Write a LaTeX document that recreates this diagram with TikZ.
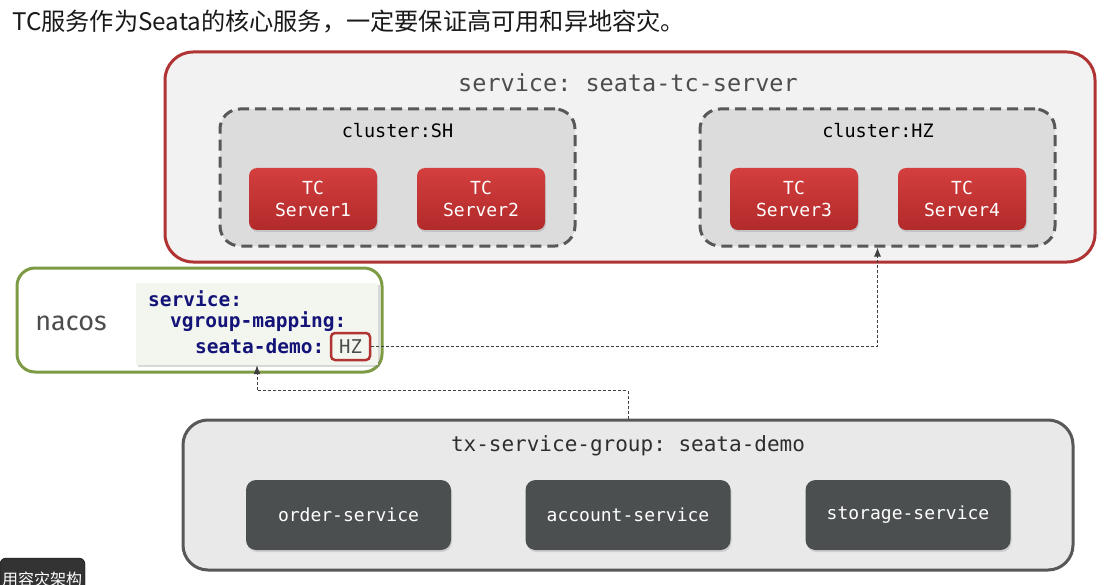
\documentclass[tikz,border=0pt]{standalone}
\usepackage{fontspec}
\setmonofont{DejaVu Sans Mono}
\setsansfont{Fira Sans}
\newfontfamily\cjk{Noto Sans CJK SC}
\usepackage{tikz}
\usetikzlibrary{arrows.meta,shadows}
\tikzset{>={Latex[length=9pt,width=7pt]}}
\definecolor{tcred}{RGB}{176,52,52}
\definecolor{tctop}{RGB}{212,62,62}
\definecolor{tcbottom}{RGB}{178,42,42}
\definecolor{panelgrey}{RGB}{242,242,242}
\definecolor{clustergrey}{RGB}{220,220,220}
\definecolor{edgegrey}{RGB}{88,88,88}
\definecolor{nacosgreen}{RGB}{125,155,69}
\definecolor{codebg}{RGB}{243,245,239}
\definecolor{codeblue}{RGB}{20,20,120}
\definecolor{groupgrey}{RGB}{233,233,233}
\definecolor{svcgrey}{RGB}{75,79,79}
\definecolor{labelgrey}{RGB}{77,77,77}
\newcommand{\fs}[1]{\fontsize{#1}{1.2\dimexpr#1pt\relax}\selectfont}
\tikzset{
	servicebox/.style={draw=tcred, line width=3pt, fill=panelgrey, rounded corners=28pt, minimum width=930pt, minimum height=210pt},
	clusterbox/.style={draw=edgegrey, line width=3pt, dash pattern=on 11pt off 6pt, fill=clustergrey, rounded corners=20pt, minimum width=355pt, minimum height=137pt},
	tcbox/.style={rounded corners=8pt, top color=tctop, bottom color=tcbottom, text=white, minimum width=128pt, minimum height=62pt, align=center, font=\ttfamily\fs{18}, drop shadow={opacity=0.25, shadow xshift=1pt, shadow yshift=-2pt}},
	nacosbox/.style={draw=nacosgreen, line width=3pt, fill=white, rounded corners=18pt, minimum width=365pt, minimum height=104pt},
	codebox/.style={fill=codebg, minimum width=242pt, minimum height=82pt, drop shadow={opacity=0.3, shadow xshift=2pt, shadow yshift=-2pt}},
	codeline/.style={anchor=west, inner sep=0pt, text=codeblue, font=\ttfamily\bfseries\fs{19.5}},
	hzbox/.style={draw=tcred, line width=2.5pt, fill=codebg, rounded corners=4pt, minimum width=39pt, minimum height=27pt, inner sep=0pt, text=labelgrey, font=\ttfamily\fs{19}},
	groupbox/.style={draw=edgegrey, line width=3pt, fill=groupgrey, rounded corners=25pt, minimum width=890pt, minimum height=150pt},
	svcbox/.style={fill=svcgrey, rounded corners=10pt, text=white, minimum width=205pt, minimum height=70pt, font=\ttfamily\fs{18}, drop shadow={opacity=0.25, shadow xshift=1pt, shadow yshift=-2pt}},
	lookup/.style={draw=black!75, line width=1pt, dash pattern=on 3pt off 2pt, ->}
}
\begin{document}
\begin{tikzpicture}[x=1pt, y=-1pt]
		\useasboundingbox (0,0) rectangle (1107,585);
		
		% Title
		\node[anchor=west, inner sep=0pt, font=\cjk\fs{24.2}, text=black!90] (title) at (12,22) {TC服务作为Seata的核心服务，一定要保证高可用和异地容灾。};
		
		% TC service
		\node[servicebox] (tcservice) at (630,157) {};
		\node[text=labelgrey, font=\ttfamily\fs{23.5}] (tclabel) at (628,83) {service: seata-tc-server};
		
		%% Clusters
		\node[clusterbox] (clusterSH) at (397.5,177.5) {};
		\node[clusterbox] (clusterHZ) at (877.5,177.5) {};
		\node[font=\ttfamily\fs{18.5}] (labelSH) at (397.5,131) {cluster:SH};
		\node[font=\ttfamily\fs{18.5}] (labelHZ) at (878,131) {cluster:HZ};
		
		%% Servers
		\node[tcbox] (server1) at (313,199) {TC\\Server1};
		\node[tcbox] (server2) at (481,199) {TC\\Server2};
		\node[tcbox] (server3) at (794,199) {TC\\Server3};
		\node[tcbox] (server4) at (962,199) {TC\\Server4};
		
		% Nacos
		\node[nacosbox] (nacos) at (199.5,320) {};
		\node[text=labelgrey, font=\sffamily\fs{27}] (nacoslabel) at (71,323) {nacos};
		\node[codebox] (code) at (257,324) {};
		\node[codeline] (line1) at (148,299) {service:};
		\node[codeline] (line2) at (170,322) {vgroup-mapping:};
		\node[codeline] (line3) at (195,346) {seata-demo:};
		\node[hzbox] (hz) at (350.5,346.5) {HZ};
		
		% Transaction group
		\node[groupbox] (txgroup) at (628,495) {};
		\node[text=labelgrey!60!black, font=\ttfamily\fs{21}] (txlabel) at (628,446) {tx-service-group: seata-demo};
		\node[svcbox] (order) at (348.5,515) {order-service};
		\node[svcbox] (account) at (628,515) {account-service};
		\node[svcbox] (storage) at (908,515) {storage-service};
		
		% Dashed Arrows
		\draw[lookup] (hz.east) -| (clusterHZ.south);
		\draw[lookup] (txgroup.north) -- ++(0,-28) -| (code.south);
		
		% Tab
		\draw[fill=black!80, rounded corners=6pt] (0,558) rectangle (85,600);
		\node[text=white, font=\cjk\fs{16}] (tab) at (42,579) {用容灾架构};
	\end{tikzpicture}
\end{document}
